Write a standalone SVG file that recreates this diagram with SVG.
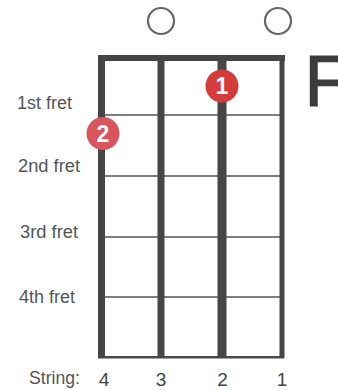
<svg xmlns="http://www.w3.org/2000/svg" width="338" height="390" viewBox="0 0 338 390">
<style>
.lbl{font-family:"Liberation Sans",Arial,sans-serif;font-size:18px;fill:#555}
.num{font-family:"Liberation Sans",Arial,sans-serif;font-size:19px;fill:#444}
.str{fill:#464646}
.fret{stroke:#555;stroke-width:1.6}
.open{fill:none;stroke:#666;stroke-width:2.2}
.fing{font-family:"Liberation Sans",Arial,sans-serif;font-size:23px;font-weight:bold;fill:#fff;text-anchor:middle}
</style>
<rect width="338" height="390" fill="#fff"/>
<g id="grid">
  <line class="fret" x1="101" y1="115" x2="283" y2="115"/>
  <line class="fret" x1="101" y1="176" x2="283" y2="176"/>
  <line class="fret" x1="101" y1="237" x2="283" y2="237"/>
  <line class="fret" x1="101" y1="297" x2="283" y2="297"/>
  <rect x="98" y="356" width="186" height="2.5" fill="#4a4a4a"/>
  <rect x="98" y="55" width="187" height="6" fill="#444"/>
  <rect class="str" x="98" y="55" width="7" height="303"/>
  <rect class="str" x="157.5" y="55" width="7" height="303"/>
  <rect class="str" x="217.5" y="55" width="9" height="303"/>
  <rect class="str" x="279.5" y="55" width="5" height="303"/>
</g>
<g id="open-strings">
  <circle class="open" cx="161" cy="21" r="13"/>
  <circle class="open" cx="278" cy="21" r="13"/>
</g>
<g id="finger1">
  <circle cx="222" cy="86" r="16.5" fill="#d43b3b"/>
  <text class="fing" x="222" y="94">1</text>
</g>
<g id="finger2">
  <circle cx="103" cy="133.5" r="16.5" fill="#d9545c"/>
  <text class="fing" x="103" y="141.5">2</text>
</g>
<text x="304.5" y="106" font-family="Liberation Sans,Arial,sans-serif" font-size="72" fill="#3c3c3c" stroke="#3c3c3c" stroke-width="1.2">F</text>
<g id="labels">
  <text class="lbl" x="17" y="109" textLength="55" lengthAdjust="spacingAndGlyphs">1st fret</text>
  <text class="lbl" x="18" y="172" textLength="62" lengthAdjust="spacingAndGlyphs">2nd fret</text>
  <text class="lbl" x="20" y="238" textLength="58" lengthAdjust="spacingAndGlyphs">3rd fret</text>
  <text class="lbl" x="19" y="303" textLength="56" lengthAdjust="spacingAndGlyphs">4th fret</text>
  <text class="lbl" x="29" y="384" textLength="51" lengthAdjust="spacingAndGlyphs">String:</text>
  <text class="num" x="104" y="386" text-anchor="middle">4</text>
  <text class="num" x="161" y="386" text-anchor="middle">3</text>
  <text class="num" x="222.5" y="386" text-anchor="middle">2</text>
  <text class="num" x="282" y="386" text-anchor="middle">1</text>
</g>
</svg>
